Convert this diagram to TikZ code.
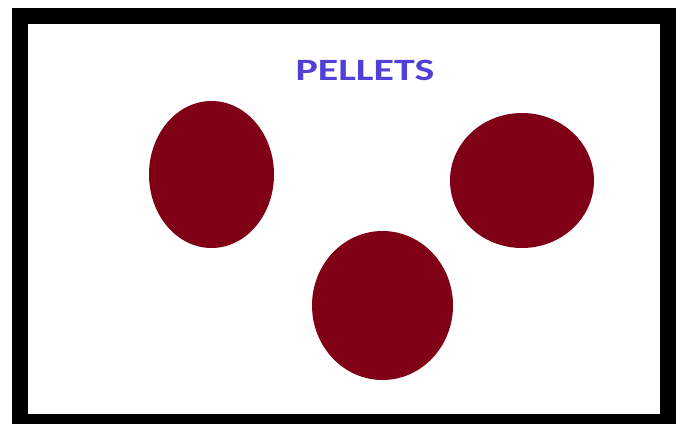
\documentclass[tikz,border=0pt]{standalone}
\usepackage{fontspec}
\setmainfont{Carlito}
\definecolor{pelletred}{HTML}{800016}
\definecolor{titleblue}{HTML}{5040D8}
\begin{document}
\begin{tikzpicture}[x=1pt, y=-1pt,
  pltframe/.style = {line width=16pt, black},
  pltpellet/.style = {fill=pelletred},
  pltlbl/.style = {font=\fontsize{31}{31}\selectfont\bfseries, text=titleblue, xscale=1.35}
]
  \useasboundingbox (0,0) rectangle (680,423);
  \clip (0,0) rectangle (680,423);
  % frame
  \draw[pltframe] (20,16) rectangle (668,422);
  % title
  \node[pltlbl] (title) at (365,70) {PELLETS};
  % pellets
  \fill[pltpellet] (211.5,174.5) ellipse (62.5 and 73.5);
  \fill[pltpellet] (522,180.5) ellipse (72 and 67.5);
  \fill[pltpellet] (382.5,305.5) ellipse (70.5 and 74.5);
\end{tikzpicture}
\end{document}
